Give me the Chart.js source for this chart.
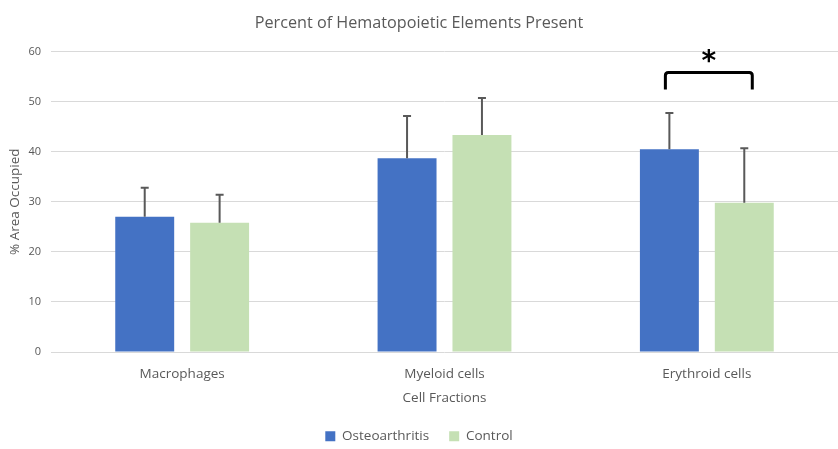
<!DOCTYPE html>
<html>
<head>
<meta charset="utf-8">
<script src="https://cdn.jsdelivr.net/npm/chart.js@4"></script>
<style>
html,body{margin:0;padding:0;background:#fff;}
#wrap{width:838px;height:449px;}
</style>
</head>
<body>
<div id="wrap"><canvas id="c" width="838" height="449"></canvas></div>
<script>
const categories = ["Macrophages", "Myeloid cells", "Erythroid cells"];
const seriesNames = ["Osteoarthritis", "Control"];
const osteoarthritis = [27.0, 38.7, 40.5];
const control = [25.8, 43.3, 29.8];
const osteoarthritisErr = [5.8, 8.4, 7.2];
const controlErr = [5.6, 7.4, 10.9];
const yTicks = [0, 10, 20, 30, 40, 50, 60];
const sigBracket = [52.4, 55.8]; // bracket foot level, bracket top level
const sigLabel = "*";

const FONT = "'Open Sans', sans-serif";
const TXT = "#595959";

const errorBars = {
  id: "errorBars",
  afterDatasetsDraw(chart) {
    const ctx = chart.ctx;
    const y = chart.scales.y;
    const errs = [osteoarthritisErr, controlErr];
    ctx.save();
    ctx.strokeStyle = "#595959";
    ctx.lineWidth = 2;
    chart.data.datasets.forEach((ds, di) => {
      const meta = chart.getDatasetMeta(di);
      meta.data.forEach((bar, i) => {
        const v = ds.data[i];
        const top = y.getPixelForValue(v + errs[di][i]);
        const base = y.getPixelForValue(v);
        ctx.beginPath();
        ctx.moveTo(bar.x, base);
        ctx.lineTo(bar.x, top);
        ctx.moveTo(bar.x - 4, top);
        ctx.lineTo(bar.x + 4, top);
        ctx.stroke();
      });
    });
    // significance bracket on last category
    const a = chart.getDatasetMeta(0).data[2];
    const b = chart.getDatasetMeta(1).data[2];
    const x1 = a.x - 4, x2 = b.x + 8;
    const yf = y.getPixelForValue(sigBracket[0]);
    const yt = y.getPixelForValue(sigBracket[1]);
    ctx.strokeStyle = "#000";
    ctx.lineWidth = 3;
    ctx.lineJoin = "round";
    ctx.beginPath();
    ctx.moveTo(x1, yf);
    ctx.lineTo(x1, yt + 3);
    ctx.quadraticCurveTo(x1, yt, x1 + 3, yt);
    ctx.lineTo(x2 - 3, yt);
    ctx.quadraticCurveTo(x2, yt, x2, yt + 3);
    ctx.lineTo(x2, yf);
    ctx.stroke();
    ctx.fillStyle = "#000";
    ctx.font = "bold 28px 'DejaVu Sans', sans-serif";
    ctx.textAlign = "center";
    ctx.textBaseline = "middle";
    ctx.fillText(sigLabel, (x1 + x2) / 2, yt - 10);
    ctx.restore();
  }
};

new Chart(document.getElementById("c"), {
  type: "bar",
  data: {
    labels: categories,
    datasets: [
      { label: seriesNames[0], data: osteoarthritis, backgroundColor: "#4472C4" },
      { label: seriesNames[1], data: control, backgroundColor: "#C5E0B4" }
    ]
  },
  options: {
    responsive: false,
    animation: false,
    devicePixelRatio: 1,
    categoryPercentage: 0.571,
    barPercentage: 0.787,
    layout: { padding: { left: 0, right: 0, top: 0, bottom: -4 } },
    plugins: {
      title: {
        display: true,
        text: "Percent of Hematopoietic Elements Present",
        color: TXT,
        font: { family: FONT, size: 16.2, weight: "normal" },
        padding: { top: 14, bottom: 18 }
      },
      legend: {
        position: "bottom",
        labels: {
          color: TXT,
          font: { family: FONT, size: 13.5 },
          boxWidth: 10, boxHeight: 10,
          padding: 20
        }
      },
      tooltip: { enabled: false }
    },
    scales: {
      x: {
        grid: { display: false },
        border: { display: false },
        ticks: { color: TXT, font: { family: FONT, size: 13.5 }, padding: 6 },
        title: { display: true, text: "Cell Fractions", color: TXT, font: { family: FONT, size: 13.5 }, padding: { top: 2, bottom: 3 } }
      },
      y: {
        min: 0, max: 60,
        afterBuildTicks(s) { s.ticks = yTicks.map(v => ({ value: v })); },
        afterFit(s) { s.width = 51; },
        grid: { color: "#D9D9D9", lineWidth: 1, drawTicks: false },
        border: { display: false },
        ticks: { color: TXT, font: { family: FONT, size: 11 }, padding: 10 },
        title: { display: true, text: "% Area Occupied", color: TXT, font: { family: FONT, size: 13.5 }, padding: { top: 7, bottom: 0 } }
      }
    }
  },
  plugins: [errorBars]
});
</script>
</body>
</html>
